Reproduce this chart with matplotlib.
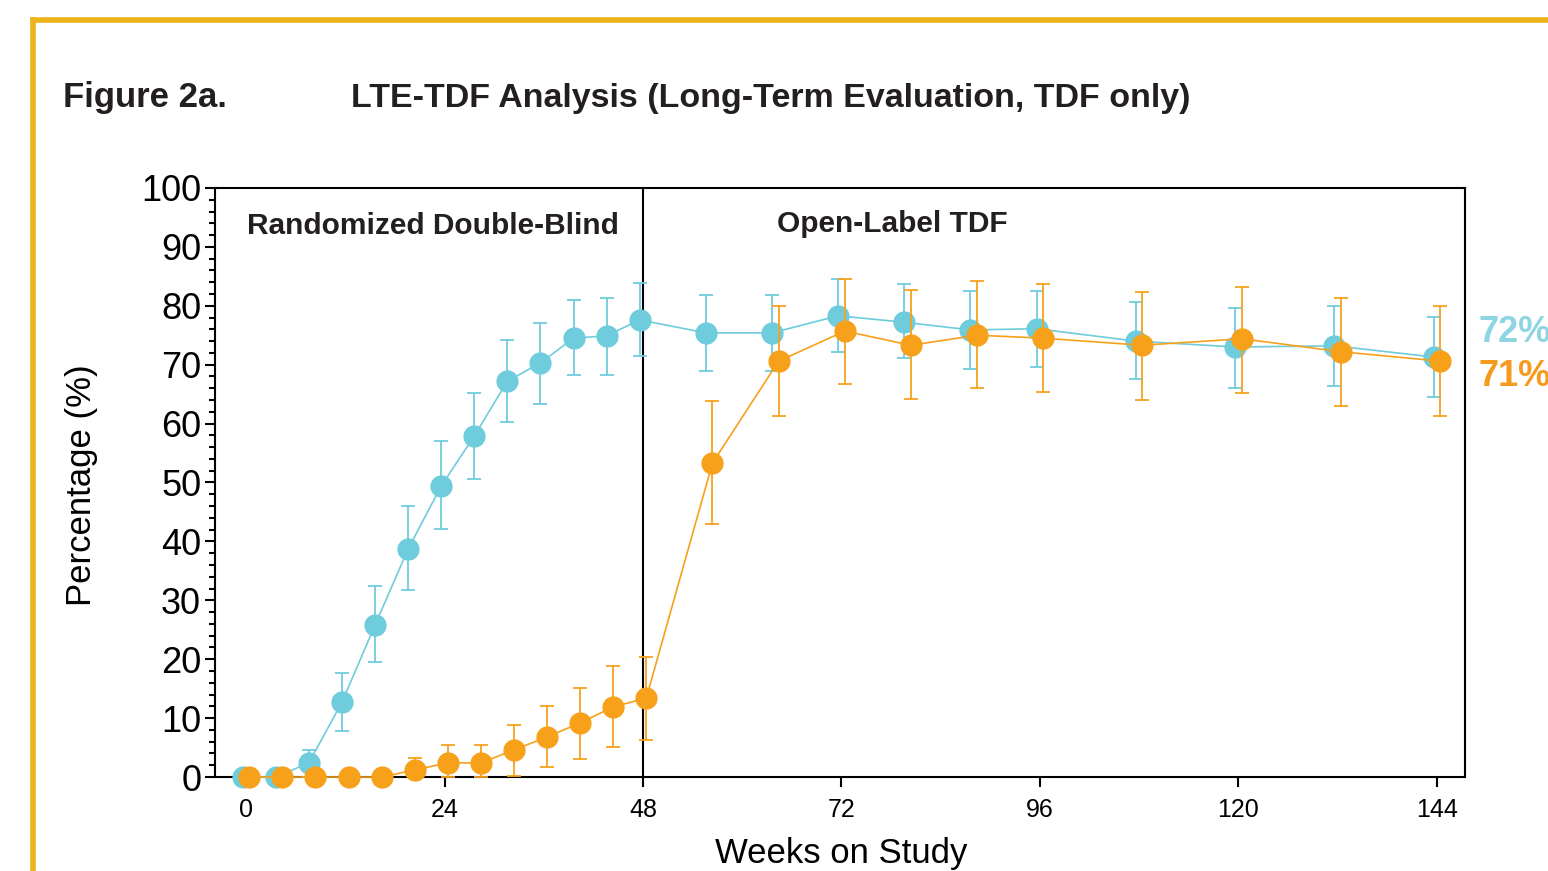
"""LTE-TDF analysis: percentage over weeks on study, two arms with error bars."""
import matplotlib
matplotlib.use("Agg")
import matplotlib.pyplot as plt
from matplotlib.lines import Line2D
from matplotlib.ticker import MultipleLocator

plt.rcParams["font.family"] = ["Liberation Sans", "DejaVu Sans"]

weeks = [0, 4, 8, 12, 16, 20, 24, 28, 32, 36, 40, 44, 48,
         56, 64, 72, 80, 88, 96, 108, 120, 132, 144]

blue_pct = [0, 0, 2.4, 12.7, 25.8, 38.7, 49.4, 57.9, 67.2, 70.3, 74.5, 74.9, 77.6,
            75.4, 75.4, 78.3, 77.2, 75.9, 76.1, 74.0, 73.0, 73.2, 71.3]
blue_hi = [0, 0, 4.6, 17.7, 32.4, 46.0, 57.0, 65.2, 74.2, 77.1, 81.0, 81.3, 83.9,
           81.8, 81.8, 84.6, 83.7, 82.5, 82.5, 80.6, 79.6, 80.0, 78.1]
blue_lo = [0, 0, 0, 7.8, 19.5, 31.7, 42.1, 50.6, 60.3, 63.3, 68.3, 68.3, 71.5,
           68.9, 68.9, 72.2, 71.1, 69.3, 69.6, 67.6, 66.0, 66.4, 64.5]

orange_pct = [0, 0, 0, 0, 0, 1.2, 2.4, 2.4, 4.6, 6.8, 9.2, 11.9, 13.4,
              53.3, 70.6, 75.7, 73.3, 75.0, 74.5, 73.3, 74.4, 72.2, 70.6]
orange_hi = [0, 0, 0, 0, 0, 3.2, 5.4, 5.4, 8.8, 12.1, 15.1, 18.8, 20.4,
             63.8, 80.0, 84.6, 82.7, 84.2, 83.7, 82.3, 83.2, 81.3, 80.0]
orange_lo = [0, 0, 0, 0, 0, 0, 0, 0, 0.2, 1.7, 3.1, 5.1, 6.3,
             43.0, 61.3, 66.7, 64.2, 66.0, 65.4, 64.0, 65.2, 63.0, 61.3]

final_labels = ["72%", "71%"]

BLUE = "#6ECCDC"
ORANGE = "#F7A11B"
GOLD = "#EDB41A"

fig = plt.figure(figsize=(15.48, 8.71), dpi=100)
ax = fig.add_axes([0.1389, 0.1079, 0.8075, 0.6763])


def _draw(offset, pct, lo, hi, color, z):
    x = [w + offset for w in weeks]
    yerr = [[p - l for p, l in zip(pct, lo)], [h - p for p, h in zip(pct, hi)]]
    ax.errorbar(x, pct, yerr=yerr, color=color, lw=1.2, elinewidth=1.3,
                capsize=5, capthick=1.3, marker="o", ms=15, mec=color,
                mfc=color, zorder=z, clip_on=False)


_draw(-0.4, blue_pct, blue_lo, blue_hi, BLUE, 3)
_draw(0.4, orange_pct, orange_lo, orange_hi, ORANGE, 4)

ax.axvline(48, color="black", lw=1.5, zorder=2)

ax.set_xlim(-3.75, 147.4)
ax.set_ylim(0, 100)
ax.set_xticks(range(0, 145, 24))
ax.yaxis.set_major_locator(MultipleLocator(10))
ax.yaxis.set_minor_locator(MultipleLocator(2))
ax.tick_params(axis="y", which="major", length=7, width=1.5, labelsize=26, pad=3)
ax.tick_params(axis="y", which="minor", length=4, width=1.5)
ax.tick_params(axis="x", which="major", length=7, width=1.5, labelsize=18, pad=8)
for s in ax.spines.values():
    s.set_linewidth(1.5)

ax.text(0.1, 93.5, "Randomized Double-Blind", fontsize=21.5, fontweight="bold",
        va="center", ha="left", color="#231F20")
ax.text(64.2, 93.9, "Open-Label TDF", fontsize=21.5, fontweight="bold",
        va="center", ha="left", color="#231F20")

fig.text(841 / 1548, 1 - 863 / 871, "Weeks on Study", fontsize=25,
         ha="center", va="baseline")
fig.text(82 / 1548, 1 - 485 / 871, "Percentage (%)", fontsize=25,
         rotation=90, ha="center", va="center")

fig.text(63 / 1548, 1 - 98 / 871, "Figure 2a.", fontsize=25, fontweight="bold",
         ha="left", va="center", color="#231F20")
fig.text(351 / 1548, 1 - 98 / 871, "LTE-TDF Analysis (Long-Term Evaluation, TDF only)",
         fontsize=24.5, fontweight="bold", ha="left", va="center", color="#231F20")

fig.text(1478 / 1548, 1 - 333 / 871, final_labels[0], fontsize=26,
         fontweight="bold", ha="left", va="center", color="#8DD5E2")
fig.text(1478 / 1548, 1 - 376 / 871, final_labels[1], fontsize=26,
         fontweight="bold", ha="left", va="center", color="#F59A1E")

# gold frame, top and left edges only
fig.add_artist(Line2D([33 / 1548, 1], [1 - 20 / 871] * 2, color=GOLD, lw=4,
                      transform=fig.transFigure))
fig.add_artist(Line2D([33 / 1548] * 2, [0, 1 - 20 / 871], color=GOLD, lw=4,
                      transform=fig.transFigure, solid_capstyle="projecting"))

fig.savefig("out.png", dpi=100)
